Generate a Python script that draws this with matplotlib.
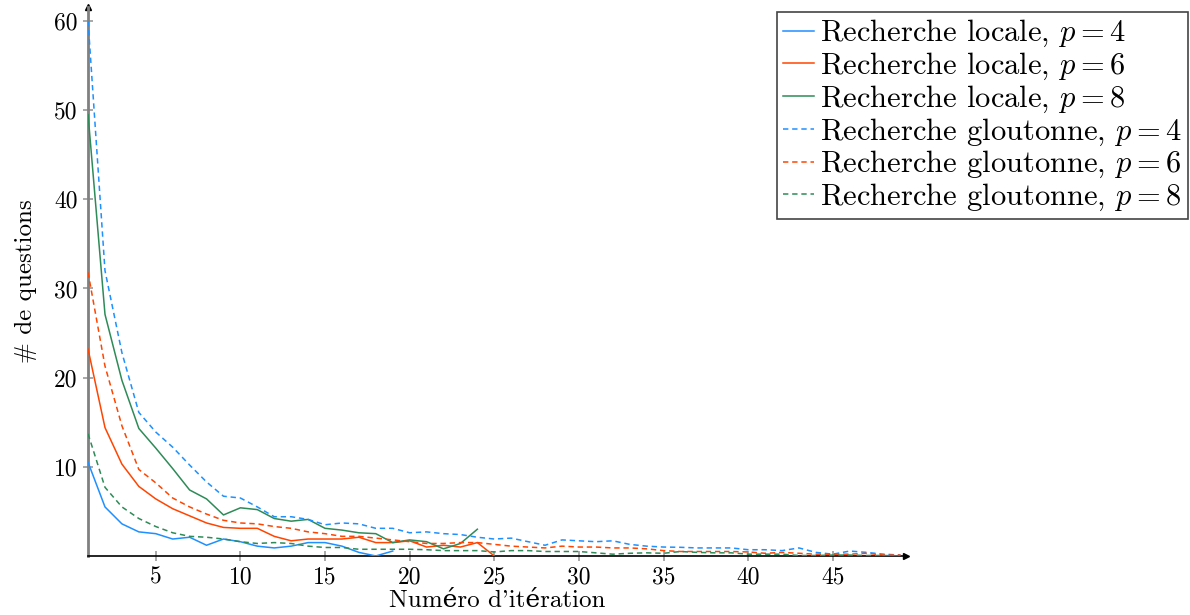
import numpy as np
import matplotlib
matplotlib.use('Agg')
import matplotlib.pyplot as plt

plt.rcParams['font.family'] = ['cmr10', 'DejaVu Serif']
plt.rcParams['mathtext.fontset'] = 'cm'
plt.rcParams['axes.unicode_minus'] = False

# Number of questions per iteration
locale_p4 = [10.5, 5.5, 3.6, 2.7, 2.5, 1.9, 2.1, 1.2, 1.9, 1.6,
             1.1, 0.9, 1.1, 1.5, 1.5, 1.1, 0.4, 0.0, 0.55]
locale_p6 = [23.2, 14.4, 10.3, 7.8, 6.4, 5.3, 4.5, 3.7, 3.2, 3.1,
             3.1, 2.2, 1.7, 1.9, 1.9, 1.9, 2.1, 1.5, 1.5, 1.7,
             1.0, 1.2, 1.0, 1.5, 0.0]
locale_p8 = [49.5, 27.1, 19.7, 14.3, 12.1, 9.8, 7.4, 6.4, 4.6, 5.4,
             5.2, 4.2, 3.9, 4.1, 3.1, 2.9, 2.6, 2.5, 1.5, 1.8,
             1.6, 0.8, 1.4, 3.0]
glout_p4 = [60.0, 32.0, 22.8, 16.1, 13.9, 12.2, 10.2, 8.3, 6.7, 6.5,
            5.5, 4.4, 4.4, 4.1, 3.5, 3.7, 3.6, 3.1, 3.1, 2.6,
            2.7, 2.5, 2.4, 2.1, 1.9, 2.0, 1.6, 1.2, 1.8, 1.7,
            1.6, 1.7, 1.3, 1.1, 1.0, 0.97, 0.9, 0.9, 0.9, 0.7,
            0.7, 0.6, 0.9, 0.4, 0.2, 0.55, 0.4, 0.2, 0.1]
glout_p6 = [31.8, 21.3, 14.6, 9.7, 8.2, 6.5, 5.5, 4.7, 4.0, 3.7,
            3.6, 3.3, 3.1, 2.7, 2.5, 2.2, 2.2, 2.0, 1.8, 1.6,
            1.4, 1.4, 1.5, 1.5, 1.3, 1.1, 1.0, 0.9, 1.1, 1.0,
            1.0, 0.9, 0.9, 0.8, 0.6, 0.5, 0.5, 0.5, 0.5, 0.45,
            0.3, 0.4, 0.3, 0.2, 0.2, 0.2, 0.3, 0.1, 0.1]
glout_p8 = [13.7, 7.7, 5.5, 4.2, 3.3, 2.6, 2.2, 2.1, 1.9, 1.6,
            1.4, 1.5, 1.4, 1.1, 0.95, 0.95, 0.75, 0.75, 0.75, 0.75,
            0.7, 0.6, 0.6, 0.6, 0.45, 0.6, 0.6, 0.5, 0.5, 0.5,
            0.35, 0.2, 0.3, 0.35, 0.3, 0.5, 0.4, 0.35, 0.35, 0.2,
            0.2, 0.2, 0.05, 0.05, 0.1, 0.1, 0.05, 0.05, 0.0]

x_ticks = [5, 10, 15, 20, 25, 30, 35, 40, 45]
y_ticks = [10, 20, 30, 40, 50, 60]

blue = '#1E90FF'
red = '#FF4500'
green = '#2E8B57'

series = [
    (locale_p4, blue, '-', r'Recherche locale, $p = 4$'),
    (locale_p6, red, '-', r'Recherche locale, $p = 6$'),
    (locale_p8, green, '-', r'Recherche locale, $p = 8$'),
    (glout_p4, blue, '--', r'Recherche gloutonne, $p = 4$'),
    (glout_p6, red, '--', r'Recherche gloutonne, $p = 6$'),
    (glout_p8, green, '--', r'Recherche gloutonne, $p = 8$'),
]

fig = plt.figure(figsize=(11.9, 6.15), dpi=100)
ax = fig.add_axes([0.074, 0.096, 0.687, 0.893])

for values, color, style, label in series:
    it = np.arange(1, len(values) + 1)
    line, = ax.plot(it, values, style, color=color, lw=1.1, label=label, zorder=3)
    if style == '--':
        line.set_dashes((3.5, 2.5))

ax.set_xlim(1, 49.3)
ax.set_ylim(0, 61.6)
ax.set_xticks(x_ticks)
ax.set_yticks(y_ticks)

for side in ['top', 'right']:
    ax.spines[side].set_visible(False)
ax.spines['left'].set_color('#808080')
ax.spines['left'].set_linewidth(2.0)
ax.spines['bottom'].set_color('black')
ax.spines['bottom'].set_linewidth(1.2)

ax.tick_params(axis='both', direction='inout', length=7, width=1.2,
               color='#999999', labelsize=17, pad=4)

# arrow heads at the ends of the axes
ax.plot(1, 0, '>', color='black', markersize=5, transform=ax.transAxes, clip_on=False)
ax.plot(0, 1, '^', color='black', markersize=5, transform=ax.transAxes, clip_on=False)

ax.set_xlabel("Numéro d'itération", fontsize=18, labelpad=1)
ax.set_ylabel('# de questions', fontsize=18, labelpad=12)

leg = ax.legend(loc='upper right', bbox_to_anchor=(1188 / 1190, 1 - 12 / 615),
                bbox_transform=fig.transFigure, fontsize=22, frameon=True,
                fancybox=False, borderaxespad=0, borderpad=0.2,
                labelspacing=0.05, handlelength=1.0, handletextpad=0.2)
leg.get_frame().set_edgecolor('#444444')
leg.get_frame().set_linewidth(1.2)
leg.get_frame().set_alpha(1)

fig.savefig('out.png', dpi=100)
